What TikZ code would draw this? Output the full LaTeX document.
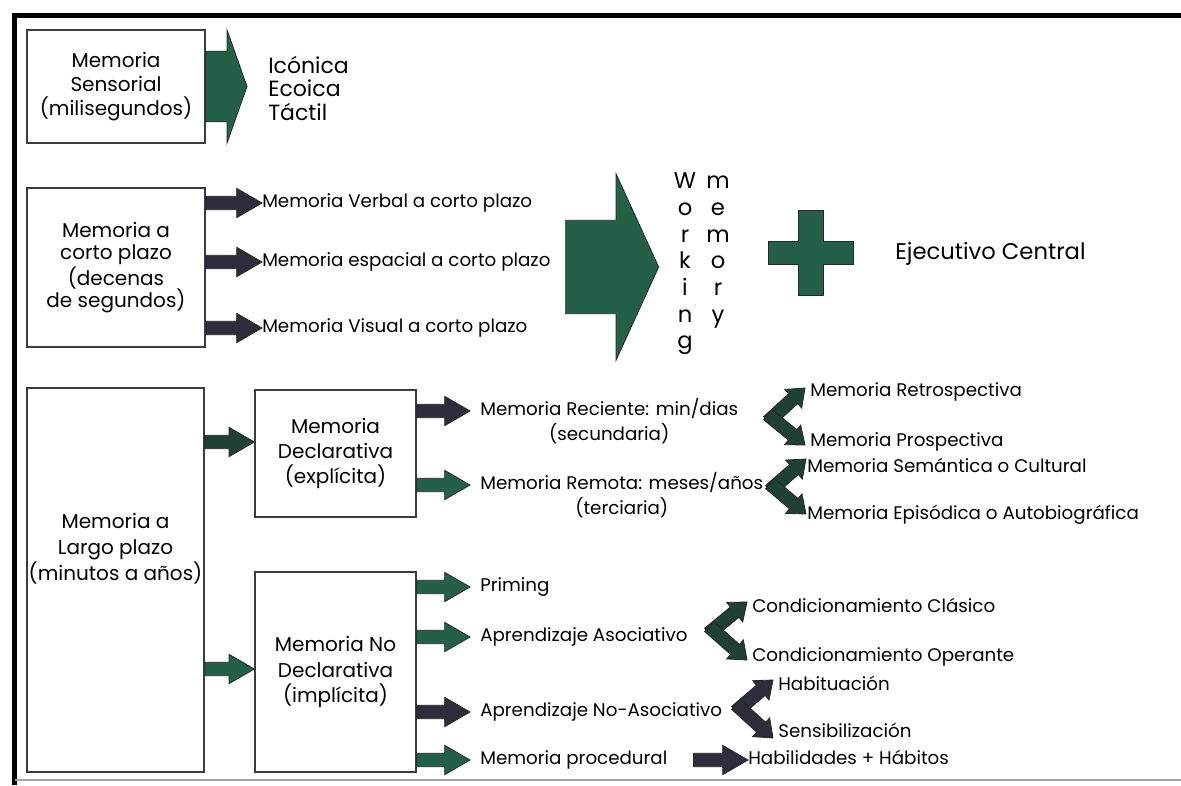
\documentclass[tikz,border=0pt]{standalone}
\usepackage{fontspec}
\setmainfont{Poppins}
\usetikzlibrary{calc,positioning}

\definecolor{verdeflecha}{RGB}{36,96,72}
\definecolor{mixtaflecha}{RGB}{32,64,52}
\definecolor{oscuroflecha}{RGB}{44,46,60}
\definecolor{bordecaja}{RGB}{60,60,60}

\tikzset{
  caja/.style={rectangle, draw=bordecaja, line width=1pt, fill=white, align=center,
    font=\fontsize{15}{19}\selectfont},
  texto/.style={inner sep=0pt, text height=10pt, text depth=3pt, anchor=west,
    font=\fontsize{13.7}{18}\selectfont},
  grande/.style={inner sep=0pt, align=left, font=\fontsize{16.5}{17.6}\selectfont},
  columna/.style={inner sep=0pt, align=center, font=\fontsize{17}{20}\selectfont},
  fverde/.style={fill=verdeflecha, draw=black!85, line width=0.6pt},
  fmixta/.style={fill=mixtaflecha, draw=black!85, line width=0.6pt},
  foscura/.style={fill=oscuroflecha, draw=black!85, line width=0.6pt},
}

% flecha de bloque: estilo, origen, punta, medio cuerpo, media punta, largo punta
\newcommand{\flecha}[6]{%
  \coordinate (fa) at (#2);
  \coordinate (ft) at (#3);
  \coordinate (fb) at ($(ft)!#6!(fa)$);
  \path[#1] ($(fa)!#4!90:(ft)$) -- ($(fb)!#4!90:(ft)$) -- ($(fb)!#5!90:(ft)$) -- (ft)
    -- ($(fb)!#5!-90:(ft)$) -- ($(fb)!#4!-90:(ft)$) -- ($(fa)!#4!-90:(ft)$) -- cycle;
}
\newcommand{\flechita}[3]{\flecha{#1}{#2}{#3}{5pt}{11pt}{19pt}}
% flecha doble en forma de <
\newcommand{\bifurca}[4]{%
  \coordinate (bv) at (#2);
  \coordinate (bu) at (#3);
  \coordinate (bd) at (#4);
  \flecha{#1}{$(bv)!-4pt!(bu)$}{bu}{5pt}{9.5pt}{12pt}
  \flecha{#1}{$(bv)!-4pt!(bd)$}{bd}{5pt}{9.5pt}{12pt}
}

\begin{document}
\begin{tikzpicture}[x=0.75pt, y=-0.75pt]
  \useasboundingbox (0,0) rectangle (1181,785);
  \fill[white] (0,0) rectangle (1181,785);
  %\draw[help lines, step=50] (0,0) grid (1181,785);

  % marco
  \draw[line width=3.75pt] (14.5,785) -- (14.5,15.5) -- (1181,15.5);
  \draw[black!35, line width=0.8pt] (14.5,780) -- (1181,780);

  % memoria sensorial
  \node[caja, minimum width=133.5pt, minimum height=84.75pt, font=\fontsize{15}{18}\selectfont] (sens) at (116,86.5) {Memoria\\Sensorial\\(milisegundos)};
  \node[grande, anchor=west] (tipos) at (268,88) {Icónica\\Ecoica\\Táctil};
  \flecha{fverde}{sens.east}{$(sens.east -| tipos.west)+(-21,0)$}{26.5pt}{42.5pt}{15pt}

  % memoria a corto plazo
  \node[caja, minimum width=133.5pt, minimum height=119.25pt, font=\fontsize{15}{17}\selectfont] (corto) at (116,267.5) {Memoria a\\corto plazo\\(decenas\\de segundos)};
  \node[texto] (verbal) at (262,203) {Memoria Verbal a corto plazo};
  \node[texto] (espacial) at (262,262) {Memoria espacial a corto plazo};
  \node[texto] (visual) at (262,328) {Memoria Visual a corto plazo};
  \flechita{foscura}{corto.east |- verbal.west}{verbal.west}
  \flechita{foscura}{corto.east |- espacial.west}{espacial.west}
  \flechita{foscura}{corto.east |- visual.west}{visual.west}

  \node[columna, anchor=north] (working) at (685,170) {\strut W\\o\\r\\k\\i\\n\\g};
  \node[columna, anchor=north] (memory) at (718,170) {\strut m\\e\\m\\o\\r\\y};
  \flecha{fverde}{$(espacial.east)+(15,5)$}{$(espacial.east -| working.west)+(-15,5)$}{35pt}{70pt}{32pt}

  \coordinate (mas) at (810.5,253);
  \path[fverde, shift={(mas)}] (-42.5,-11.5) -- (-12.5,-11.5) -- (-12.5,-42.5) -- (12.5,-42.5)
    -- (12.5,-11.5) -- (42.5,-11.5) -- (42.5,11.5) -- (12.5,11.5) -- (12.5,42.5)
    -- (-12.5,42.5) -- (-12.5,11.5) -- (-42.5,11.5) -- cycle;
  \node[texto, font=\fontsize{17}{18}\selectfont] (ejecutivo) at (895,255) {Ejecutivo Central};

  % memoria a largo plazo
  \node[caja, minimum width=132.75pt, minimum height=288pt] (largo) at (115.5,580) {};
  \node[inner sep=0pt, align=center, font=\fontsize{15}{19.5}\selectfont] (largotxt) at (115.5,548.5) {Memoria a\\Largo plazo\\(minutos a años)};
  \node[caja, minimum width=120.75pt, minimum height=95.25pt] (decl) at (335.5,453.5) {Memoria\\Declarativa\\(explícita)};
  \node[caja, minimum width=120.75pt, minimum height=150pt] (nodecl) at (335.5,672) {Memoria No\\Declarativa\\(implícita)};
  \coordinate (declin) at ($(decl.west)+(0,-11.5)$);
  \coordinate (nodeclin) at ($(nodecl.west)+(0,-3)$);
  \flechita{fmixta}{largo.east |- declin}{declin}
  \flechita{fverde}{largo.east |- nodeclin}{nodeclin}

  % declarativa
  \node[texto] (reciente) at (480,411) {Memoria Reciente: min/dias};
  \node[texto, below=5pt of reciente] (secundaria) {(secundaria)};
  \node[texto] (remota) at (480,485) {Memoria Remota: meses/años};
  \node[texto, below=5pt of remota] (terciaria) {(terciaria)};
  \flechita{foscura}{decl.east |- reciente}{$(reciente.west)+(-10,0)$}
  \flechita{fverde}{decl.east |- remota}{$(remota.west)+(-10,0)$}

  \node[texto] (retro) at (810,392) {Memoria Retrospectiva};
  \node[texto] (prosp) at (810,442) {Memoria Prospectiva};
  \node[texto] (semantica) at (807,468) {Memoria Semántica o Cultural};
  \node[texto] (episodica) at (807,515) {Memoria Episódica o Autobiográfica};
  \coordinate (v1) at (772,418);
  \coordinate (v2) at (774,487);
  \bifurca{fmixta}{v1}{$(retro.west)+(-5,-4)$}{$(prosp.west)+(-5,3)$}
  \bifurca{fmixta}{v2}{$(semantica.west)+(-1,-9)$}{$(episodica.west)+(-1,-1)$}

  % no declarativa
  \node[texto] (priming) at (480,587) {Priming};
  \node[texto] (asociativo) at (480,637) {Aprendizaje Asociativo};
  \node[texto] (noasociativo) at (480,712) {Aprendizaje No-Asociativo};
  \node[texto] (procedural) at (480,760) {Memoria procedural};
  \flechita{fverde}{nodecl.east |- priming}{$(priming.west)+(-10,0)$}
  \flechita{fverde}{nodecl.east |- asociativo}{$(asociativo.west)+(-10,0)$}
  \flechita{foscura}{nodecl.east |- noasociativo}{$(noasociativo.west)+(-10,0)$}
  \flechita{fverde}{nodecl.east |- procedural}{$(procedural.west)+(-10,0)$}

  \node[texto] (clasico) at (752,608) {Condicionamiento Clásico};
  \node[texto] (operante) at (752,657) {Condicionamiento Operante};
  \node[texto] (habituacion) at (778,686) {Habituación};
  \node[texto] (sensibilizacion) at (778,733) {Sensibilización};
  \node[texto] (habilidades) at (748,760) {Habilidades + Hábitos};
  \coordinate (v3) at (713,630);
  \coordinate (v4) at (740,708);
  \bifurca{fmixta}{v3}{$(clasico.west)+(-5,-6)$}{$(operante.west)+(-5,3)$}
  \bifurca{foscura}{v4}{$(habituacion.west)+(-5,-6)$}{$(sensibilizacion.west)+(-5,5)$}
  \flechita{foscura}{$(procedural.east)+(26,0)$}{habilidades.west}
\end{tikzpicture}
\end{document}
